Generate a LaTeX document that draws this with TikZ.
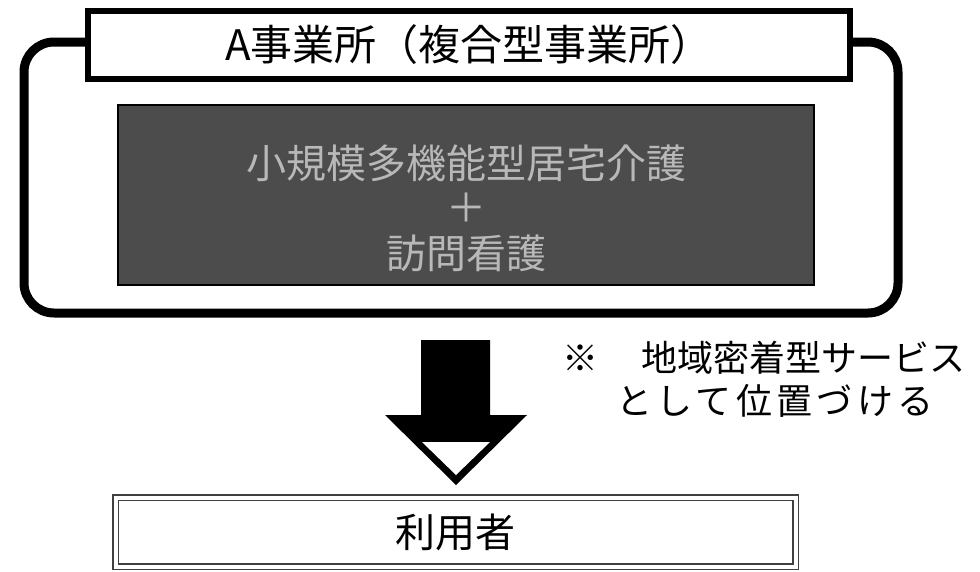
\documentclass[tikz,border=0pt]{standalone}
\usepackage{fontspec}
\newfontfamily\jp{Noto Sans CJK JP}
\newfontfamily\jpwide[LetterSpace=12]{Noto Sans CJK JP}
\definecolor{darkfill}{gray}{0.30}
\definecolor{lighttext}{gray}{0.72}
\definecolor{dblline}{gray}{0.25}
\tikzset{
  outerframe/.style={line width=9pt, rounded corners=30pt},
  titlebox/.style={draw, line width=6pt, fill=white, inner sep=0pt, minimum width=762pt, minimum height=68pt, font=\jp\fontsize{42pt}{48pt}\selectfont},
  darkbox/.style={draw, line width=1.5pt, fill=darkfill, inner sep=0pt, minimum width=696pt, minimum height=180pt},
  darktext/.style={text=lighttext, inner sep=0pt, font=\jp\fontsize{40pt}{46pt}\selectfont},
  notetext/.style={inner sep=0pt, font=\jp\fontsize{36pt}{42pt}\selectfont},
  userbox/.style={draw=dblline, double=white, double distance=4pt, line width=1.6pt, inner sep=0pt, minimum width=680pt, minimum height=69pt, font=\jp\fontsize{40pt}{46pt}\selectfont}
}
\begin{document}
\begin{tikzpicture}[x=1pt,y=-1pt]
\useasboundingbox (0,0) rectangle (980,571);
% outer rounded frame
\draw[outerframe] (24,42) rectangle (898,313);
% title box
\node[titlebox] (title) at (469,45) {A事業所（複合型事業所）};
% dark service box
\node[darkbox] (svc) at (466,195) {};
\node[darktext] (svc1) at (466,163) {小規模多機能型居宅介護};
\node[darktext] (plus) at (466,208) {＋};
\node[darktext] (svc2) at (466,253) {訪問看護};
% block arrow
\coordinate (arrtop) at (455.5,340);
\fill[black] (421,340) -- (490,340) -- (490,415) -- (527,415) -- (456,485) -- (385,415) -- (421,415) -- cycle;
\fill[white] (422,442) -- (490,442) -- (456,475) -- cycle;
% note text
\node[notetext, anchor=east] (note1) at (966,358) {※\hspace{1.2em}地域密着型サービス};
\node[notetext, anchor=west] (note2) at (616,401) {\jpwide として位置づける};
% user box
\node[userbox] (user) at (455.5,532) {利用者};
\end{tikzpicture}
\end{document}
